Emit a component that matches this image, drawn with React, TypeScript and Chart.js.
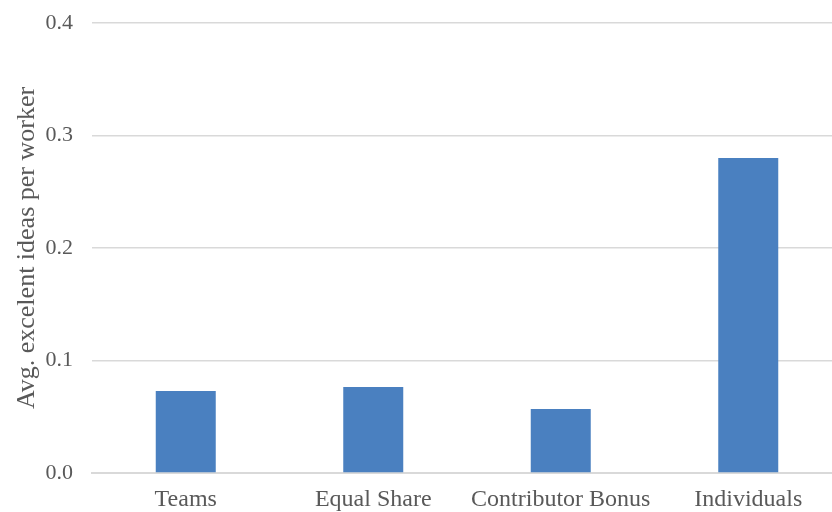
import React, { useEffect, useRef } from "react";
import { Chart, registerables } from "chart.js";
Chart.register(...registerables);

const categories = ["Teams", "Equal Share", "Contributor Bonus", "Individuals"];
const values = [0.073, 0.0765, 0.057, 0.28];
const yTitle = "Avg. excelent ideas per worker";

const FONT = "'Liberation Serif', 'Times New Roman', serif";

export default function App() {
  const ref = useRef<HTMLCanvasElement>(null);
  useEffect(() => {
    const chart = new Chart(ref.current!, {
      type: "bar",
      data: {
        labels: categories,
        datasets: [
          {
            data: values,
            backgroundColor: "#4a80c0",
            categoryPercentage: 1,
            barPercentage: 0.32,
          },
        ],
      },
      options: {
        animation: false,
        responsive: false,
        layout: { padding: { top: 23, left: 0, right: 0, bottom: 0 } },
        plugins: { legend: { display: false }, tooltip: { enabled: false } },
        scales: {
          x: {
            grid: { display: false, drawTicks: false },
            border: { color: "#d9d9d9", width: 2 },
            ticks: {
              color: "#595959",
              padding: 12,
              font: { family: FONT, size: 24 },
              maxRotation: 0,
              autoSkip: false,
            },
            afterFit: (s: any) => {
              s.height = 39;
              s.paddingLeft = 0;
              s.paddingRight = 0;
            },
          },
          y: {
            min: 0,
            max: 0.4,
            ticks: {
              stepSize: 0.1,
              color: "#595959",
              padding: 19,
              font: { family: FONT, size: 22 },
              callback: (v: any) => Number(v).toFixed(1),
            },
            grid: { color: "#d9d9d9", lineWidth: 1.5, drawTicks: false },
            border: { display: false },
            title: {
              display: true,
              text: yTitle,
              color: "#595959",
              font: { family: FONT, size: 26 },
              padding: { top: 12, bottom: 0 },
            },
            afterFit: (s: any) => {
              s.width = 92;
              s.paddingTop = 0;
              s.paddingBottom = 0;
            },
          },
        },
      },
    });
    return () => chart.destroy();
  }, []);
  return (
    <div style={{ position: "fixed", left: 0, top: 0, width: 832, height: 512, overflow: "hidden", background: "#fff" }}>
      <canvas ref={ref} width={842} height={512} style={{ display: "block" }} />
    </div>
  );
}
